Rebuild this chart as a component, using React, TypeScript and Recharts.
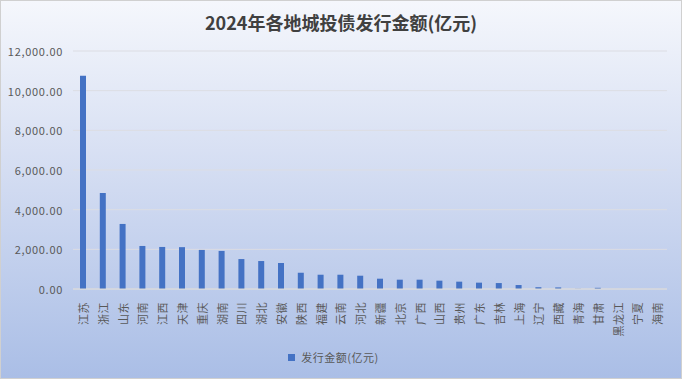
import React from 'react';
import { BarChart, Bar, XAxis, YAxis, CartesianGrid, Legend } from 'recharts';

const categories = ['江苏','浙江','山东','河南','江西','天津','重庆','湖南','四川','湖北','安徽','陕西','福建','云南','河北','新疆','北京','广西','山西','贵州','广东','吉林','上海','辽宁','西藏','青海','甘肃','黑龙江','宁夏','海南'];
const amounts = [10750, 4840, 3280, 2170, 2120, 2110, 1970, 1920, 1510, 1410, 1310, 820, 720, 720, 670, 520, 470, 470, 420, 370, 320, 300, 200, 90, 80, 10, 60, 0, 0, 0];
const yTicks = [0, 2000, 4000, 6000, 8000, 10000, 12000];
const seriesName = '发行金额(亿元)';
const title = '2024年各地城投债发行金额(亿元)';

const data = categories.map((c, i) => ({ name: c, value: amounts[i] }));

const FONT = '"Noto Sans CJK SC", "Noto Sans", sans-serif';

const XTick = (props: any) => {
  const { x, y, payload } = props;
  return (
    <text
      x={x}
      y={y + 5}
      transform={`rotate(-90, ${x}, ${y + 5})`}
      textAnchor="end"
      dominantBaseline="central"
      fontSize={11}
      fill="#595959"
      fontFamily={FONT}
      letterSpacing={0.5}
    >
      {payload.value}
    </text>
  );
};

const YTick = (props: any) => {
  const { x, y, payload } = props;
  const label = Number(payload.value).toLocaleString('en-US', { minimumFractionDigits: 2, maximumFractionDigits: 2 });
  return (
    <text x={x} y={y} textAnchor="end" dominantBaseline="central" fontSize={11} fill="#595959" fontFamily={FONT} letterSpacing={0.7}>
      {label}
    </text>
  );
};

const LegendContent = () => (
  <div style={{ height: 30, display: 'flex', justifyContent: 'center', alignItems: 'flex-start', fontFamily: FONT, fontSize: 11, color: '#595959' }}>
    <div style={{ display: 'flex', alignItems: 'center' }}>
      <span style={{ display: 'inline-block', width: 7, height: 7, background: '#4472c4', marginRight: 6 }} />
      <span style={{ letterSpacing: 0.5 }}>{seriesName}</span>
    </div>
  </div>
);

export default function App() {
  return (
    <div style={{ position: 'absolute', left: 0, top: 0, width: 682, height: 379, boxSizing: 'border-box', border: '1px solid #d0d0d0', background: 'linear-gradient(to bottom, #f5f7fc 0%, #d4ddf2 45%, #aabee6 100%)', fontFamily: FONT }}>
      <div style={{ position: 'absolute', top: 8, left: 0, width: 680, textAlign: 'center', fontSize: 18, fontWeight: 'bold', color: '#404040', fontFamily: FONT }}>
        {title}
      </div>
      <div style={{ position: 'absolute', left: -1, top: -1 }}>
        <BarChart width={682} height={379} data={data} margin={{ top: 51, right: 15, left: 0, bottom: 0 }}>
          <CartesianGrid vertical={false} stroke="#dcdde3" />
          <XAxis dataKey="name" interval={0} tickLine={false} axisLine={{ stroke: '#d9d9d9' }} height={60} tick={<XTick />} />
          <YAxis
            domain={[0, 12000]}
            ticks={yTicks}
            width={73}
            axisLine={false}
            tickLine={false}
            tickMargin={4}
            tick={<YTick />}
          />
          <Legend verticalAlign="bottom" content={<LegendContent />} />
          <Bar dataKey="value" name={seriesName} fill="#4472c4" barSize={6} isAnimationActive={false} />
        </BarChart>
      </div>
    </div>
  );
}
